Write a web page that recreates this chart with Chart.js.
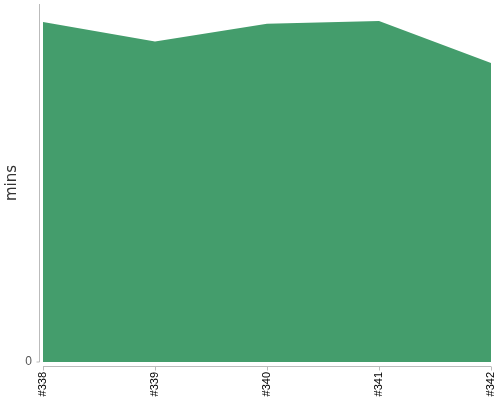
<!DOCTYPE html>
<html>
<head>
<meta charset="utf-8">
<script src="https://cdn.jsdelivr.net/npm/chart.js@4"></script>
<style>
  body { margin: 0; background: #fff; }
  #wrap { width: 500px; height: 400px; }
</style>
</head>
<body>
<div id="wrap"><canvas id="chart"></canvas></div>
<script>
const builds = ["#338", "#339", "#340", "#341", "#342"];
const mins = [38, 35.8, 37.8, 38.1, 33.4];

let ctx = document.getElementById("chart").getContext("2d");

// axes sit a few px away from the plot area, so draw them ourselves
const detachedAxes = {
  id: "detachedAxes",
  afterDraw(chart) {
    const { ctx, chartArea, scales } = chart;
    const xs = scales.x, ys = scales.y;
    const ax = chartArea.left - 3.5;
    const ay = chartArea.bottom + 4.5;
    const y0 = ys.getPixelForValue(0);
    ctx.save();
    ctx.strokeStyle = "#bbb";
    ctx.lineWidth = 1;
    ctx.beginPath();
    ctx.moveTo(ax, chartArea.top);
    ctx.lineTo(ax, y0);
    ctx.moveTo(ax - 3, y0);
    ctx.lineTo(ax, y0);
    ctx.moveTo(chartArea.left, ay);
    ctx.lineTo(chartArea.right, ay);
    xs.ticks.forEach((t, i) => {
      const px = Math.round(xs.getPixelForTick(i)) + 0.5;
      ctx.moveTo(px, ay);
      ctx.lineTo(px, ay + 4);
    });
    ctx.stroke();
    ctx.restore();
  },
};

new Chart(ctx, {
  type: "line",
  data: {
    labels: builds,
    datasets: [
      {
        label: "mins",
        data: mins,
        backgroundColor: "rgb(68, 157, 108)",
        borderColor: "rgb(68, 157, 108)",
        borderWidth: 0,
        pointRadius: 0,
        tension: 0,
        fill: "origin",
      },
    ],
  },
  plugins: [detachedAxes],
  options: {
    responsive: true,
    maintainAspectRatio: false,
    animation: false,
    layout: { padding: { top: 4, right: 9, left: 0, bottom: 0 } },
    plugins: {
      legend: { display: false },
      tooltip: { enabled: false },
    },
    scales: {
      x: {
        offset: false,
        afterFit: (s) => { s.paddingRight = 0; s.height = 38; },
        grid: { display: false, drawTicks: false, tickLength: 0 },
        border: { display: false },
        ticks: {
          color: "#000",
          padding: 10,
          font: { family: "Liberation Sans", size: 11 },
          maxRotation: 90,
          minRotation: 90,
          autoSkip: false,
        },
      },
      y: {
        min: 0,
        max: 40,
        afterBuildTicks: (axis) => { axis.ticks = [{ value: 0 }]; },
        afterFit: (s) => { s.paddingTop = 0; s.width = 43; },
        grid: { display: false, drawTicks: false, tickLength: 0 },
        border: { display: false },
        ticks: {
          color: "#555",
          padding: 11,
          font: { family: "Liberation Sans", size: 12 },
        },
        title: {
          display: true,
          text: "mins",
          color: "#333",
          padding: 3.5,
          font: { family: "DejaVu Sans", size: 15 },
        },
      },
    },
  },
});
</script>
</body>
</html>
